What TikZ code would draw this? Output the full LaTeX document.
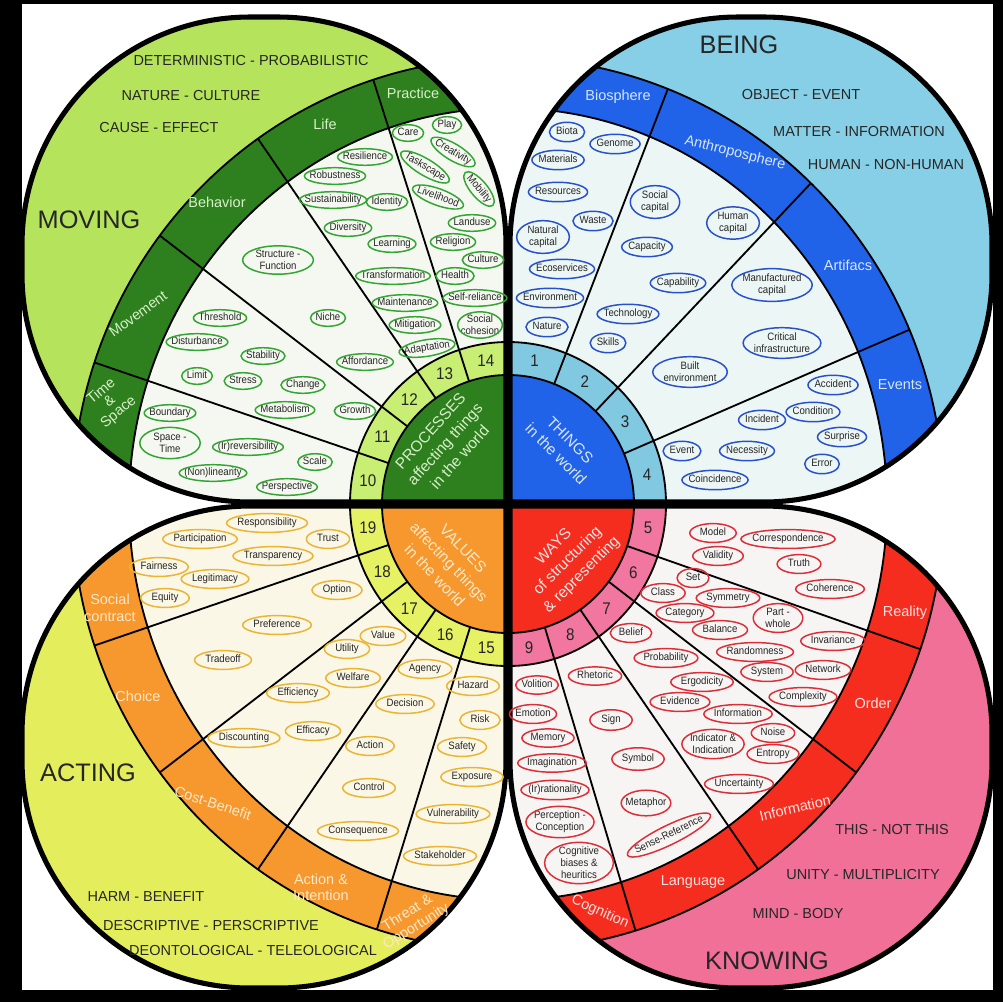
\documentclass[tikz,border=0pt]{standalone}
\usepackage{fontspec}
\setmainfont{Liberation Sans}
\newfontfamily\narrowfam[FakeStretch=0.9]{Liberation Sans}
\usetikzlibrary{calc}

\definecolor{mvpetal}{RGB}{181,228,92}
\definecolor{mvdark}{RGB}{46,128,30}
\definecolor{mvring}{RGB}{200,238,115}
\definecolor{mvpale}{RGB}{245,248,240}
\definecolor{mvline}{RGB}{50,165,50}
\definecolor{mvtext}{RGB}{215,240,200}
\definecolor{bepetal}{RGB}{135,207,230}
\definecolor{bedark}{RGB}{32,98,232}
\definecolor{bering}{RGB}{128,201,225}
\definecolor{bepale}{RGB}{236,246,245}
\definecolor{beline}{RGB}{40,80,205}
\definecolor{betext}{RGB}{215,230,255}
\definecolor{acpetal}{RGB}{228,238,92}
\definecolor{acdark}{RGB}{246,152,45}
\definecolor{acring}{RGB}{231,241,100}
\definecolor{acpale}{RGB}{250,247,230}
\definecolor{acline}{RGB}{235,180,50}
\definecolor{actext}{RGB}{255,232,200}
\definecolor{knpetal}{RGB}{241,112,152}
\definecolor{kndark}{RGB}{245,45,30}
\definecolor{knring}{RGB}{241,118,160}
\definecolor{knpale}{RGB}{247,245,244}
\definecolor{knline}{RGB}{222,45,55}
\definecolor{kntext}{RGB}{255,225,225}

\newcommand{\ovalfont}{\narrowfam\fontsize{7.6}{8.6}\selectfont}
\newcommand{\petaltl}{(506,502) -- (250,502) arc[start angle=90, end angle=180, radius=228] -- (22,245) arc[start angle=180, end angle=270, radius=228] -- (278,17) arc[start angle=270, end angle=360, radius=228] -- cycle}
\newcommand{\petaltr}{(510,502) -- (510,245) arc[start angle=180, end angle=270, radius=228] -- (764,17) arc[start angle=270, end angle=360, radius=228] -- (992,274) arc[start angle=0, end angle=90, radius=228] -- cycle}
\newcommand{\petalbl}{(506,506) -- (506,760) arc[start angle=0, end angle=90, radius=228] -- (250,988) arc[start angle=90, end angle=180, radius=228] -- (22,734) arc[start angle=180, end angle=270, radius=228] -- cycle}
\newcommand{\petalbr}{(510,506) -- (764,506) arc[start angle=270, end angle=360, radius=228] -- (992,760) arc[start angle=0, end angle=90, radius=228] -- (738,988) arc[start angle=90, end angle=180, radius=228] -- cycle}
% ellipse round a named node
\newcommand{\ringoval}[2]{\draw[ovalline=#2] let \p1=(#1.east), \p2=(#1.west), \p3=(#1.north), \p4=(#1.south) in (#1.center) ellipse [x radius={veclen(\x1-\x2,\y1-\y2)/2+2pt}, y radius={veclen(\x3-\x4,\y3-\y4)/2+1.6pt}, rotate={atan2(\y1-\y2,\x1-\x2)}];}

\tikzset{
  petaledge/.style={line width=3.6pt, black},
  divider/.style={line width=1.3pt, black},
  ringnum/.style={font=\narrowfam\fontsize{12}{13}\selectfont, text=black!85},
  bigword/.style={font=\fontsize{18}{20}\selectfont, text=black!85},
  polarity/.style={font=\fontsize{10.3}{12}\selectfont, text=black!85},
  bandlabel/.style={font=\fontsize{10.3}{11.5}\selectfont, align=center},
  corelabel/.style={font=\fontsize{11}{14}\selectfont, align=center},
  ovalline/.style={draw=#1, line width=1.05pt},
  oneline/.style={font=\ovalfont, text=black!85, text height=5.5pt, text depth=1.5pt},
  twoline/.style={font=\ovalfont, text=black!85, align=center},
  mv/.style={oneline, inner xsep=1.5pt, inner ysep=0.6pt},
  mv2/.style={twoline, inner xsep=7pt, inner ysep=1.3pt},
  be/.style={oneline, inner xsep=2.5pt, inner ysep=1.6pt},
  be2/.style={twoline, inner xsep=5.5pt, inner ysep=2pt},
  ac/.style={oneline, inner xsep=5.5pt, inner ysep=1.4pt},
  kn/.style={oneline, inner xsep=5.5pt, inner ysep=1.4pt},
  kn2/.style={twoline, inner xsep=4pt, inner ysep=1.5pt},
}

\begin{document}
\begin{tikzpicture}[x=0.025cm, y=-0.025cm]
\useasboundingbox (0,0) rectangle (1003,1002);
\fill[black] (0,0) rectangle (1003,1002);
\fill[white] (22,4) rectangle (993,990);

% MOVING
\begin{scope}
\clip \petaltl;
\fill[mvpetal] (0,0) rectangle (1003,1002);
\begin{scope}[shift={(508,504)}, yscale=-1]
\fill[mvdark] (0,0) -- (0,446) arc[start angle=90, end angle=180, x radius=436, y radius=446] -- cycle;
\fill[mvpale] (0,0) -- (0,396) arc[start angle=90, end angle=180, x radius=379, y radius=396] -- cycle;
\fill[mvring] (0,0) -- (0,162) arc[start angle=90, end angle=180, x radius=158, y radius=162] -- cycle;
\fill[mvdark] (0,0) -- (0,129) arc[start angle=90, end angle=180, x radius=126, y radius=129] -- cycle;
\foreach \rx/\ry in {126/129,158/162,379/396,436/446}
  \draw[divider] (0,\ry) arc[start angle=90, end angle=180, x radius=\rx, y radius=\ry];
\foreach \a in {108,125,143,161.5}
  \draw[divider] (\a:126 and 129) -- (\a:436 and 446);
\foreach \n/\a in {14/99,13/116.5,12/134,11/152.25,10/170.75}
  \node[ringnum] (n\n) at (\a:142 and 145.5) {\n};
\end{scope}
\end{scope}
\draw[petaledge] \petaltl;

% BEING
\begin{scope}
\clip \petaltr;
\fill[bepetal] (0,0) rectangle (1003,1002);
\begin{scope}[shift={(508,504)}, yscale=-1]
\fill[bedark] (0,0) -- (436,0) arc[start angle=0, end angle=90, x radius=436, y radius=446] -- cycle;
\fill[bepale] (0,0) -- (379,0) arc[start angle=0, end angle=90, x radius=379, y radius=396] -- cycle;
\fill[bering] (0,0) -- (158,0) arc[start angle=0, end angle=90, x radius=158, y radius=162] -- cycle;
\fill[bedark] (0,0) -- (126,0) arc[start angle=0, end angle=90, x radius=126, y radius=129] -- cycle;
\foreach \rx/\ry in {126/129,158/162,379/396,436/446}
  \draw[divider] (\rx,0) arc[start angle=0, end angle=90, x radius=\rx, y radius=\ry];
\foreach \a in {23,46,68.5}
  \draw[divider] (\a:126 and 129) -- (\a:436 and 446);
\foreach \n/\a in {1/79.25,2/57.25,3/34.5,4/11.5}
  \node[ringnum] (n\n) at (\a:142 and 145.5) {\n};
\end{scope}
\end{scope}
\draw[petaledge] \petaltr;

% ACTING
\begin{scope}
\clip \petalbl;
\fill[acpetal] (0,0) rectangle (1003,1002);
\begin{scope}[shift={(508,504)}, yscale=-1]
\fill[acdark] (0,0) -- (-436,0) arc[start angle=180, end angle=270, x radius=436, y radius=446] -- cycle;
\fill[acpale] (0,0) -- (-379,0) arc[start angle=180, end angle=270, x radius=379, y radius=396] -- cycle;
\fill[acring] (0,0) -- (-158,0) arc[start angle=180, end angle=270, x radius=158, y radius=162] -- cycle;
\fill[acdark] (0,0) -- (-126,0) arc[start angle=180, end angle=270, x radius=126, y radius=129] -- cycle;
\foreach \rx/\ry in {126/129,158/162,379/396,436/446}
  \draw[divider] (-\rx,0) arc[start angle=180, end angle=270, x radius=\rx, y radius=\ry];
\foreach \a in {198.5,217,235,252.5}
  \draw[divider] (\a:126 and 129) -- (\a:436 and 446);
\foreach \n/\a in {19/189.25,18/207.75,17/226,16/243.75,15/261.25}
  \node[ringnum] (n\n) at (\a:142 and 145.5) {\n};
\end{scope}
\end{scope}
\draw[petaledge] \petalbl;

% KNOWING
\begin{scope}
\clip \petalbr;
\fill[knpetal] (0,0) rectangle (1003,1002);
\begin{scope}[shift={(508,504)}, yscale=-1]
\fill[kndark] (0,0) -- (0,-446) arc[start angle=270, end angle=360, x radius=436, y radius=446] -- cycle;
\fill[knpale] (0,0) -- (0,-396) arc[start angle=270, end angle=360, x radius=379, y radius=396] -- cycle;
\fill[knring] (0,0) -- (0,-162) arc[start angle=270, end angle=360, x radius=158, y radius=162] -- cycle;
\fill[kndark] (0,0) -- (0,-129) arc[start angle=270, end angle=360, x radius=126, y radius=129] -- cycle;
\foreach \rx/\ry in {126/129,158/162,379/396,436/446}
  \draw[divider] (0,-\ry) arc[start angle=270, end angle=360, x radius=\rx, y radius=\ry];
\foreach \a in {287,305,323,341}
  \draw[divider] (\a:126 and 129) -- (\a:436 and 446);
\foreach \n/\a in {9/278.5,8/296,7/314,6/332,5/350.5}
  \node[ringnum] (n\n) at (\a:142 and 145.5) {\n};
\end{scope}
\end{scope}
\draw[petaledge] \petalbr;

% centre
\node[corelabel, text=mvtext, rotate=48] (processes) at (445,444) {PROCESSES\\affecting things\\in the world};
\node[corelabel, text=betext, rotate=-45] (things) at (563,447) {THINGS\\in the world};
\node[corelabel, text=actext, rotate=-46] (values) at (449,562) {VALUES\\affecting things\\in the world};
\node[corelabel, text=kntext, rotate=45] (ways) at (568,561) {WAYS\\of structuring\\\& representing};

% titles and polarities
\node[bigword] (moving) at (89,220) {MOVING};
\node[bigword] (being) at (739,45) {BEING};
\node[bigword] (acting) at (88,773) {ACTING};
\node[bigword] (knowing) at (767,961) {KNOWING};
\node[polarity] (detprob) at (251,61) {DETERMINISTIC - PROBABILISTIC};
\node[polarity] (natcult) at (191,96) {NATURE - CULTURE};
\node[polarity] (causeeff) at (159,128) {CAUSE - EFFECT};
\node[polarity] (objevent) at (801,95) {OBJECT - EVENT};
\node[polarity] (matinfo) at (859,132) {MATTER - INFORMATION};
\node[polarity] (humnon) at (886,165) {HUMAN - NON-HUMAN};
\node[polarity] (harmben) at (146,896) {HARM - BENEFIT};
\node[polarity] (descpres) at (211,925) {DESCRIPTIVE - PERSCRIPTIVE};
\node[polarity] (deonteleo) at (253,950) {DEONTOLOGICAL - TELEOLOGICAL};
\node[polarity] (thisnot) at (892,829) {THIS - NOT THIS};
\node[polarity] (unitymult) at (863,874) {UNITY - MULTIPLICITY};
\node[polarity] (mindbody) at (798,913) {MIND - BODY};

% band labels
\node[bandlabel, text=mvtext] (practice) at (413,93) {Practice};
\node[bandlabel, text=mvtext] (life) at (325,124) {Life};
\node[bandlabel, text=mvtext] (behavior) at (217,202) {Behavior};
\node[bandlabel, text=mvtext, rotate=36] (movement) at (138,314) {Movement};
\node[bandlabel, text=mvtext, rotate=40, font=\fontsize{10.3}{9.5}\selectfont] (timespace) at (110,402) {Time\\\&\\Space};
\node[bandlabel, text=betext] (biosphere) at (618,97) {Biosphere};
\node[bandlabel, text=betext, rotate=-14] (anthroposphere) at (735,153) {Anthroposphere};
\node[bandlabel, text=betext] (artifacs) at (848,265) {Artifacs};
\node[bandlabel, text=betext] (events) at (900,385) {Events};
\node[bandlabel, text=actext, font=\fontsize{10.3}{12}\selectfont] (socialcontract) at (110,608) {Social\\contract};
\node[bandlabel, text=actext] (choice) at (138,696) {Choice};
\node[bandlabel, text=actext, rotate=-18] (costbenefit) at (213,803) {Cost-Benefit};
\node[bandlabel, text=actext] (actionintention) at (321,887) {Action \&\\Intention};
\node[bandlabel, text=actext, rotate=32] (threat) at (412,920) {Threat \&\\Opportunity};
\node[bandlabel, text=kntext] (reality) at (905,613) {Reality};
\node[bandlabel, text=kntext] (order) at (873,703) {Order};
\node[bandlabel, text=kntext, rotate=13] (informationband) at (795,808) {Information};
\node[bandlabel, text=kntext] (language) at (693,882) {Language};
\node[bandlabel, text=kntext, rotate=-24] (cognition) at (600,912) {Cognition};

% processes
\foreach \nd/\px/\py/\rot/\txt in {care/408/133/0/Care, play/447/125/0/Play,
    creativity/453/152/-31/Creativity, taskscape/425/167/-31/Taskscape,
    mobility/479/189/-50/Mobility, livelihood/438/197/-20/Livelihood,
    landuse/472/223/0/Landuse, religion/453/242/0/Religion, culture/483/260/0/Culture,
    health/455/276/0/Health, selfreliance/475/298/0/Self-reliance,
    resilience/365/157/0/Resilience, robustness/335/176/0/Robustness,
    sustainability/333/200/0/Sustainability, identity/387/202/0/Identity,
    diversity/348/228/0/Diversity, learning/392/244/0/Learning,
    transformation/393/276/0/Transformation, maintenance/405/303/0/Maintenance,
    mitigation/415/325/0/Mitigation, adaptation/427/348/9/Adaptation,
    niche/328/318/0/Niche, affordance/365/362/0/Affordance, growth/355/411/0/Growth,
    threshold/220/318/0/Threshold, disturbance/197/342/0/Disturbance,
    stability/263/356/0/Stability, limit/197/376/0/Limit, stress/243/381/0/Stress,
    change/303/385/0/Change, metabolism/285/410/0/Metabolism,
    boundary/170/413/0/Boundary, irreversibility/248/447/0/{(Ir)reversibility},
    scale/315/462/0/Scale, nonlinearity/213/473/0/{(Non)linearity},
    perspective/287/487/0/Perspective}{
  \node[mv, rotate=\rot] (\nd) at (\px,\py) {\txt};
  \ringoval{\nd}{mvline}
}
\foreach \nd/\px/\py/\sx/\sy/\txt in {socialcohesion/480/325/0pt/0.5pt/{Social\\cohesion},
    structure/278/260/7pt/1.3pt/{Structure -\\Function}, spacetime/170/443/7.5pt/2.3pt/{Space -\\Time}}{
  \node[mv2, inner xsep=\sx, inner ysep=\sy] (\nd) at (\px,\py) {\txt};
  \ringoval{\nd}{mvline}
}

% things
\foreach \nd/\px/\py/\txt in {biota/567/132/Biota, genome/615/144/Genome,
    materials/558/160/Materials, resources/558/192/Resources, waste/593/221/Waste,
    ecoservices/562/269/Ecoservices, environment/550/298/Environment,
    nature/547/327/Nature, capacity/647/247/Capacity, capability/678/283/Capability,
    technology/628/314/Technology, skills/608/343/Skills, accident/833/385/Accident,
    condition/813/412/Condition, incident/762/420/Incident, surprise/842/437/Surprise,
    event/682/451/Event, necessity/747/451/Necessity, error/822/464/Error,
    coincidence/715/480/Coincidence}{
  \node[be] (\nd) at (\px,\py) {\txt};
  \ringoval{\nd}{beline}
}
\foreach \nd/\px/\py/\txt in {naturalcap/543/237/{Natural\\capital},
    socialcap/655/202/{Social\\capital}, humancap/733/223/{Human\\capital},
    manufactured/772/285/{Manufactured\\capital}, critical/782/343/{Critical\\infrastructure},
    built/690/372/{Built\\environment}}{
  \node[be2] (\nd) at (\px,\py) {\txt};
  \ringoval{\nd}{beline}
}

% values
\foreach \nd/\px/\py/\txt in {responsibility/267/523/Responsibility,
    participation/200/539/Participation, trust/328/539/Trust,
    transparency/273/556/Transparency, fairness/159/567/Fairness,
    legitimacy/215/579/Legitimacy, equity/165/598/Equity, option/337/590/Option,
    preference/277/625/Preference, tradeoff/223/660/Tradeoff, value/383/636/Value,
    utility/347/649/Utility, welfare/353/678/Welfare, efficiency/298/693/Efficiency,
    efficacy/313/731/Efficacy, discounting/244/738/Discounting, agency/425/669/Agency,
    decision/405/704/Decision, action/370/746/Action, control/369/788/Control,
    consequence/358/831/Consequence, hazard/473/686/Hazard, risk/480/720/Risk,
    safety/462/747/Safety, exposure/472/777/Exposure,
    vulnerability/453/814/Vulnerability, stakeholder/440/856/Stakeholder}{
  \node[ac] (\nd) at (\px,\py) {\txt};
  \ringoval{\nd}{acline}
}

% ways
\foreach \nd/\px/\py/\rot/\sx/\sy/\txt in {model/713/533/0/5pt/1.4pt/Model,
    correspondence/788/539/0/6pt/1.4pt/Correspondence, validity/718/556/0/5pt/1.4pt/Validity,
    truth/799/564/0/5.5pt/1.4pt/Truth, coherence/830/589/0/5.5pt/1.4pt/Coherence,
    set/693/578/0/4pt/1.4pt/Set, class/663/593/0/5pt/1.4pt/Class,
    symmetry/728/598/0/5pt/1.4pt/Symmetry, category/685/613/0/4.5pt/1.4pt/Category,
    balance/720/630/0/5pt/1.4pt/Balance, invariance/833/641/0/5pt/1.4pt/Invariance,
    randomness/755/652/0/5pt/1.4pt/Randomness, system/767/672/0/5pt/1.4pt/System,
    network/823/670/0/5pt/1.4pt/Network, complexity/803/697/0/5pt/1.4pt/Complexity,
    belief/631/633/0/4pt/1.4pt/Belief, probability/666/658/0/4.5pt/1.4pt/Probability,
    ergodicity/702/682/0/5pt/1.4pt/Ergodicity, evidence/680/702/0/5pt/1.4pt/Evidence,
    information/738/714/0/5pt/1.4pt/Information, noise/773/733/0/4.5pt/1.4pt/Noise,
    entropy/773/754/0/4.5pt/1.4pt/Entropy, uncertainty/739/784/0/5pt/1.4pt/Uncertainty,
    rhetoric/595/676/0/4pt/1.2pt/Rhetoric, sign/611/720/0/6pt/2pt/Sign,
    symbol/638/759/0/5pt/2.7pt/Symbol, metaphor/646/803/0/1pt/3.8pt/Metaphor,
    sensereference/669/835/26/4pt/1.6pt/Sense-Reference, volition/537/685/0/2pt/1.2pt/Volition,
    emotion/533/714/0/2pt/1.4pt/Emotion, memory/548/738/0/4pt/1.2pt/Memory,
    imagination/552/763/0/4.5pt/1.2pt/Imagination,
    irrationality/555/790/0/3pt/1.6pt/{(Ir)rationality}}{
  \node[kn, rotate=\rot, inner xsep=\sx, inner ysep=\sy] (\nd) at (\px,\py) {\txt};
  \ringoval{\nd}{knline}
}
\foreach \nd/\px/\py/\sx/\txt in {partwhole/778/618/6.5pt/{Part -\\whole},
    indicator/713/744/3.6pt/{Indicator \&\\Indication}, perception/560/822/3.6pt/{Perception -\\Conception},
    cognitive/579/863/8pt/{Cognitive\\biases \&\\heuritics}}{
  \node[kn2, inner xsep=\sx] (\nd) at (\px,\py) {\txt};
  \ringoval{\nd}{knline}
}
\end{tikzpicture}
\end{document}
